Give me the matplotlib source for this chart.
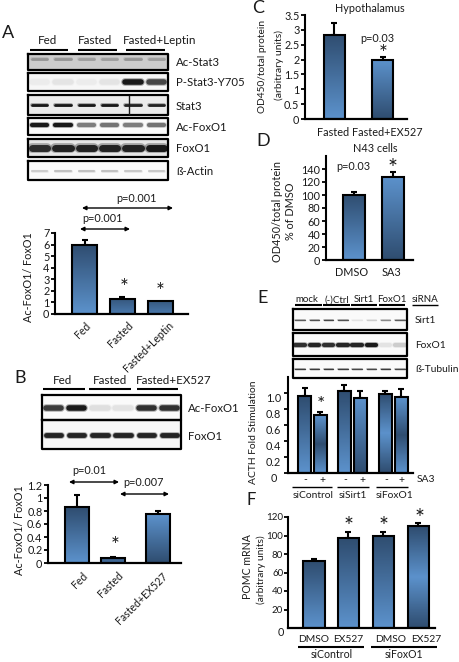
import numpy as np
import matplotlib
matplotlib.use('Agg')
import matplotlib.pyplot as plt
from matplotlib.colors import LinearSegmentedColormap

W, H = 460, 662
plt.rcParams['font.family'] = ['Lato', 'DejaVu Sans']

# Podaci - A
a_labels = ['Fed', 'Fasted', 'Fasted+Leptin']
a_vals = [6.0, 1.3, 1.15]
a_err = [0.42, 0.15, 0.0]
a_ticks = [0, 1, 2, 3, 4, 5, 6, 7]
a_row_names = ['Ac-Stat3', 'P-Stat3-Y705', 'Stat3', 'Ac-FoxO1', 'FoxO1', 'ß-Actin']
a_row_bands = [
    [0.3, 0.3, 0.25, 0.25, 0.3, 0.25],
    [0.05, 0.08, 0.05, 0.08, 1.0, 0.8],
    [1.0, 1.0, 1.0, 1.0, 0.95, 0.95],
    [1.0, 1.0, 0.55, 0.6, 0.55, 0.6],
    [0.9, 0.95, 0.95, 0.95, 0.95, 1.0],
    [0.2, 0.25, 0.25, 0.25, 0.22, 0.22],
]

# Podaci - B
b_labels = ['Fed', 'Fasted', 'Fasted+EX527']
b_vals = [0.86, 0.07, 0.75]
b_err = [0.19, 0.03, 0.05]
b_ticks = [0, 0.2, 0.4, 0.6, 0.8, 1, 1.2]
b_tick_labels = ['0', '0.2', '0.4', '0.6', '0.8', '1', '1.2']
b_row_names = ['Ac-FoxO1', 'FoxO1']
b_row_bands = [
    [0.85, 1.0, 0.12, 0.1, 0.9, 0.9],
    [0.95, 0.95, 0.95, 0.95, 0.95, 0.95],
]

# Podaci - C
c_labels = ['Fasted', 'Fasted+EX527']
c_vals = [2.83, 2.0]
c_err = [0.4, 0.1]
c_ticks = [0, 0.5, 1, 1.5, 2, 2.5, 3, 3.5]
c_tick_labels = ['0', '0.5', '1', '1.5', '2', '2.5', '3', '3.5']

# Podaci - D
d_labels = ['DMSO', 'SA3']
d_vals = [100, 128]
d_err = [5, 8]
d_ticks = [0, 20, 40, 60, 80, 100, 120, 140]

# Podaci - E
e_row_names = ['Sirt1', 'FoxO1', 'ß-Tubulin']
e_row_bands = [
    [0.7, 0.75, 0.8, 0.75, 0.1, 0.2, 0.5, 0.7],
    [0.9, 0.95, 0.9, 0.95, 0.95, 1.0, 0.1, 0.2],
    [0.85, 0.85, 0.85, 0.85, 0.8, 0.8, 0.85, 0.8],
]
e_groups = ['mock', '(-)Ctrl', 'Sirt1', 'FoxO1']
e_vals = [0.96, 0.725, 1.03, 0.94, 0.99, 0.95]
e_err = [0.10, 0.035, 0.07, 0.09, 0.04, 0.10]
e_sa3 = ['-', '+', '-', '+', '-', '+']
e_sirna = ['siControl', 'siSirt1', 'siFoxO1']

# Podaci - F
f_labels = ['DMSO', 'EX527', 'DMSO', 'EX527']
f_vals = [72, 97, 100, 110]
f_err = [3, 7, 4, 4]
f_ticks = [20, 40, 60, 80, 100, 120]
f_groups = ['siControl', 'siFoxO1']

DARK = '#2f4d70'
LIGHT = '#5c92cc'
cm_down = LinearSegmentedColormap.from_list('down', [DARK, LIGHT])
cm_up = LinearSegmentedColormap.from_list('up', [LIGHT, DARK])
cm_flat = LinearSegmentedColormap.from_list('flat', ['#35567c', '#4a79ad'])
cm_mid = LinearSegmentedColormap.from_list('mid', [LIGHT, DARK, LIGHT])
cm_mid2 = LinearSegmentedColormap.from_list('mid2', [DARK, LIGHT, DARK])

fig = plt.figure(figsize=(W / 100, H / 100), dpi=100)

# platno u pikselima za tekst i blotove
bg = fig.add_axes([0, 0, 1, 1])
bg.set_xlim(0, W)
bg.set_ylim(H, 0)
bg.axis('off')


def txt(x, y, s, size=7.8, ha='center', **kw):
    bg.text(x, y, s, fontsize=size, ha=ha, va='center', color='#1a1a1a', **kw)


def star(x, y, size=15):
    # zvjezdica u fontu stoji visoko pa je spustimo
    txt(x, y + 3, '*', size=size)


def rule(x0, x1, y, lw=1.5):
    bg.plot([x0, x1], [y, y], color='black', lw=lw, solid_capstyle='butt')


def arrow(x0, x1, y):
    bg.annotate('', xy=(x1, y), xytext=(x0, y),
                arrowprops=dict(arrowstyle='<|-|>', color='black', lw=1,
                                mutation_scale=6, shrinkA=0, shrinkB=0))


def blot(x0, x1, y0, y1, bands, thick, shade=0.98, shift=0):
    bg.fill_between([x0, x1], y0, y1, color=str(shade), zorder=2)
    lane = (x1 - x0) / len(bands)
    ymid = (y0 + y1) / 2 + shift
    for i, d in enumerate(bands):
        xa = x0 + lane * (i + 0.17)
        xb = x0 + lane * (i + 0.83)
        c = str(round(shade * (1 - d), 3))
        bg.plot([xa, xb], [ymid, ymid], color=c, lw=thick * 1.4, alpha=0.3,
                solid_capstyle='round', zorder=3)
        bg.plot([xa, xb], [ymid, ymid], color=c, lw=thick, alpha=0.85,
                solid_capstyle='round', zorder=3)
    bg.plot([x0, x1, x1, x0, x0], [y0, y0, y1, y1, y0], color='black', lw=1.6, zorder=4)


def bar_axes(left, right, top, bottom, ymax):
    ax = fig.add_axes([left / W, 1 - bottom / H, (right - left) / W, (bottom - top) / H])
    ax.set_xlim(left, right)
    ax.set_ylim(0, ymax)
    ax.patch.set_alpha(0)
    ax.spines['top'].set_visible(False)
    ax.spines['right'].set_visible(False)
    ax.spines['left'].set_linewidth(1.5)
    ax.spines['bottom'].set_linewidth(1.6)
    ax.set_xticks([])
    ax.tick_params(axis='y', length=3, width=1.3, pad=1, labelsize=7.8, labelcolor='#1a1a1a')
    return ax


def bars(ax, xs, width, vals, errs, cmaps):
    ylim = ax.get_ylim()
    xlim = ax.get_xlim()
    grad = np.linspace(0, 1, 64).reshape(-1, 1)
    for x, v, e, cmap in zip(xs, vals, errs, cmaps):
        if e > 0:
            ax.errorbar(x, v, yerr=[[0], [e]], color='black', lw=1.5, capsize=2.5,
                        capthick=1.5, zorder=1)
        b = ax.bar(x, v, width, color='none', edgecolor='black', lw=1.5, zorder=3)[0]
        im = ax.imshow(grad, cmap=cmap, aspect='auto', zorder=2,
                       extent=[x - width / 2, x + width / 2, 0, v])
        im.set_clip_path(b)
    ax.set_xlim(xlim)
    ax.set_ylim(ylim)


def slanted(xs, y, labels):
    for x, s in zip(xs, labels):
        bg.text(x, y, s, rotation=45, ha='right', va='top', rotation_mode='anchor',
                fontsize=7.6, color='#1a1a1a')


# --- A ---
txt(8, 33, 'A', size=13)
for x, s in zip([48, 95, 160], a_labels):
    txt(x, 40, s, size=8.4)
rule(30, 68, 50)
rule(78, 117, 50)
rule(126, 165, 50)
a_rows_y = [(54, 70), (73, 91), (95, 115), (118, 135), (139, 157), (161, 180)]
a_shade = [0.8, 0.97, 0.92, 0.98, 0.9, 0.98]
a_thick = [2, 4, 2, 3, 5, 1.5]
a_shift = [-3, 0, 0, -2, 0, 0]
for name, (y0, y1), d, sh, t, dy in zip(a_row_names, a_rows_y, a_row_bands, a_shade, a_thick, a_shift):
    blot(28, 168, y0, y1, d, t, sh, dy)
    txt(176, (y0 + y1) / 2 + 1, name, size=8.2, ha='left')
bg.plot([129, 129], [96, 114], color='0.1', lw=1, zorder=4)

ax = bar_axes(55, 188, 233, 314, 7)
ax.set_yticks(a_ticks)
bars(ax, [84.5, 122.5, 160.5], 25, a_vals, a_err, [cm_down, cm_flat, cm_flat])
txt(29, 277, 'Ac-FoxO1/ FoxO1', rotation=90)
slanted([85, 128, 168], 320, a_labels)
star(124, 285)
star(160, 289)
arrow(82, 173, 208)
arrow(80, 130, 229)
txt(136, 198, 'p=0.001')
txt(102, 219, 'p=0.001')

# --- B ---
txt(20, 378, 'B', size=13)
for x, s in zip([63, 110, 174], b_labels):
    txt(x, 381, s, size=8.4)
rule(43, 85, 389)
rule(89, 131, 389)
rule(137, 178, 389)
blot(42, 181, 395, 420, b_row_bands[0], 4)
blot(42, 181, 420, 449, b_row_bands[1], 3.5, 0.97)
txt(188, 409, b_row_names[0], size=8.2, ha='left')
txt(188, 437, b_row_names[1], size=8.2, ha='left')

ax = bar_axes(48, 181, 485, 563, 1.2)
ax.set_yticks(b_ticks)
ax.set_yticklabels(b_tick_labels)
bars(ax, [77, 113.5, 158], 24, b_vals, b_err, [cm_down, cm_flat, cm_up])
txt(20, 530, 'Ac-FoxO1/ FoxO1', rotation=90)
slanted([82, 118, 162], 570, b_labels)
star(115, 543)
arrow(69, 119, 482)
arrow(120, 169, 494)
txt(89, 471, 'p=0.01')
txt(143, 483, 'p=0.007')

# --- C ---
txt(258, 8, 'C', size=13)
txt(370, 8, 'Hypothalamus')
ax = bar_axes(305, 407, 15, 119, 3.5)
ax.set_yticks(c_ticks)
ax.set_yticklabels(c_tick_labels)
bars(ax, [334.5, 383], 21, c_vals, c_err, [cm_down, cm_up])
txt(263, 66, 'OD450/total protein', size=7.3, rotation=90)
txt(279, 65, '(arbitrary units)', size=7.5, rotation=90)
for x, s in zip([333, 387], c_labels):
    txt(x, 132, s)
txt(377, 39, 'p=0.03')
star(383, 51, 15)

# --- D ---
txt(263, 141, 'D', size=13)
txt(375, 148, 'N43 cells')
ax = bar_axes(326, 413, 156, 260, 160)
ax.set_yticks(d_ticks)
bars(ax, [354, 393], 22, d_vals, d_err, [cm_down, cm_up])
txt(278, 211, 'OD450/total protein', rotation=90)
txt(291, 211, '% of DMSO', rotation=90)
for x, s in zip([352, 391], d_labels):
    txt(x, 272, s)
txt(353, 167, 'p=0.03')
star(393, 165, 17)

# --- E ---
txt(263, 298, 'E', size=13)
for x, s in zip([307, 337, 364, 392], e_groups):
    txt(x, 300, s, size=7)
txt(425, 300, 'siRNA', size=7)
rule(295, 322, 305)
rule(323, 350, 305)
rule(351, 377, 305)
rule(379, 405, 305)
rule(412, 438, 305, 1)
e_rows_y = [(309, 330), (333, 356), (359, 378)]
e_thick = [1, 3, 1]
for name, (y0, y1), d, t in zip(e_row_names, e_rows_y, e_row_bands, e_thick):
    blot(293, 407, y0, y1, d, t)
    txt(415, (y0 + y1) / 2 + 1, name, size=7.4, ha='left')

ax = bar_axes(288, 413, 377, 473, 1.2)
ax.set_yticks([0, 0.2, 0.4, 0.6, 0.8, 1.0])
ax.set_yticklabels([])
bars(ax, [304.5, 320.5, 344.5, 360.5, 385.5, 401.5], 13, e_vals, e_err,
     [cm_down, cm_mid, cm_down, cm_up, cm_mid2, cm_mid])
for y, s in zip([399, 415, 431, 447, 463], ['1.0', '0.8', '0.6', '0.4', '0.2']):
    txt(281, y, s, size=7.8, ha='right')
txt(274, 479, '0', size=7.8)
txt(254, 432, 'ACTH Fold Stimulation', size=7.4, rotation=90)
star(321, 402, 14)
for x, s in zip([305, 322, 345, 362, 386, 401], e_sa3):
    txt(x, 480, s, size=7.4)
txt(417, 480, 'SA3', ha='left', size=7.4)
rule(292, 332, 487, 1)
rule(337, 369, 487, 1)
rule(376, 408, 487, 1)
for x, s in zip([313, 353, 395], e_sirna):
    txt(x, 496, s, size=7.4)

# --- F ---
txt(251, 500, 'F', size=12)
ax = bar_axes(288, 435, 517, 628, 120)
ax.set_yticks(f_ticks)
ax.tick_params(axis='y', labelsize=7, pad=0.5)
bars(ax, [314, 348.5, 383.5, 418.5], 21.5, f_vals, f_err, [cm_down, cm_down, cm_down, cm_mid2])
txt(281, 633, '0', size=7.8)
txt(248, 567, 'POMC mRNA', size=7.6, rotation=90)
txt(261, 570, '(arbitrary units)', size=7.4, rotation=90)
for x, s in zip([314, 348, 391, 426], f_labels):
    txt(x, 639, s, size=7.4)
rule(298, 364, 647)
rule(371, 437, 647)
txt(332, 655, f_groups[0], size=7.6)
txt(404, 655, f_groups[1], size=7.6)
star(349, 524, 17)
star(384, 524, 17)
star(420, 515, 17)

fig.savefig('out.png', dpi=100)
